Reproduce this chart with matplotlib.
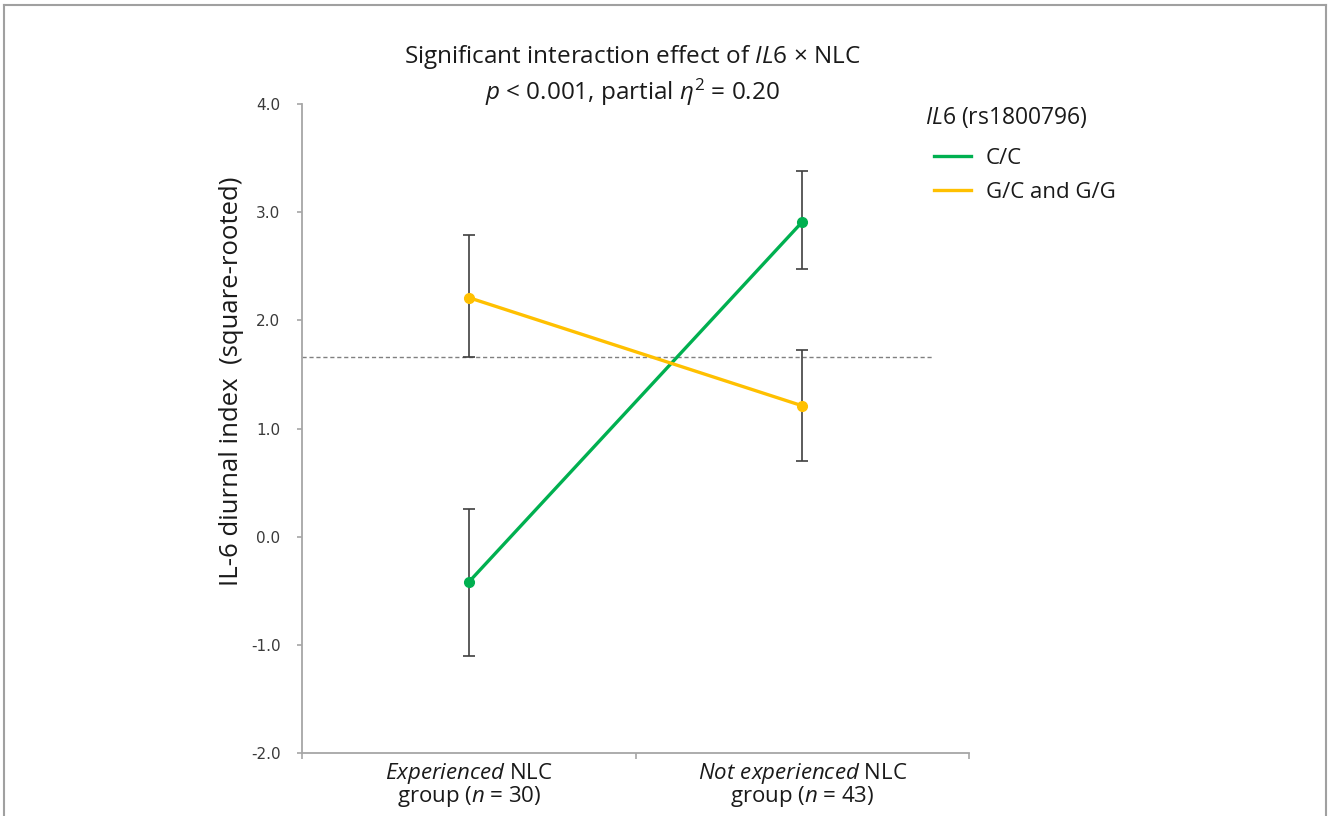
import matplotlib
matplotlib.use("Agg")
import matplotlib.pyplot as plt
from matplotlib.lines import Line2D

plt.rcParams['font.family'] = ['Open Sans', 'DejaVu Sans']
plt.rcParams['mathtext.fontset'] = 'custom'
plt.rcParams['mathtext.rm'] = 'Open Sans'
plt.rcParams['mathtext.it'] = 'Open Sans:italic'
plt.rcParams['mathtext.fallback'] = 'stixsans'

# ---- data ----
group_labels = [r"$\it{Experienced}$ NLC" + "\n" + r"group ($\it{n}$ = 30)",
                r"$\it{Not\ experienced}$ NLC" + "\n" + r"group ($\it{n}$ = 43)"]
genotypes = ["C/C", "G/C and G/G"]
cc_mean = [-0.42, 2.91]
cc_low = [-1.10, 2.47]
cc_high = [0.26, 3.38]
gg_mean = [2.21, 1.21]
gg_low = [1.66, 0.70]
gg_high = [2.79, 1.73]
grand_mean = 1.66
yticks = [-2.0, -1.0, 0.0, 1.0, 2.0, 3.0, 4.0]

green = "#00B050"
yellow = "#FFC000"
axis_gray = "#A6A6A6"
txt = "#1a1a1a"

fig = plt.figure(figsize=(13.28, 8.16), dpi=100)
ax = fig.add_axes([302/1328, 1-753/816, (969-302)/1328, (753-104)/816])

x = [0.5, 1.5]
for mean, lo, hi, col, lab in [(cc_mean, cc_low, cc_high, green, genotypes[0]),
                               (gg_mean, gg_low, gg_high, yellow, genotypes[1])]:
    yerr = [[m - l for m, l in zip(mean, lo)], [h - m for m, h in zip(mean, hi)]]
    ax.errorbar(x, mean, yerr=yerr, fmt='none', ecolor='#404040', elinewidth=1.2,
                capsize=4, capthick=1.2, zorder=2)
    ax.plot(x, mean, color=col, lw=2.4, marker='o', ms=7, zorder=3, label=lab)

ax.hlines(grand_mean, 0, 1.89, colors='#808080', linestyles=(0, (3, 2)), lw=1, zorder=1)

ax.set_xlim(0, 2)
ax.set_ylim(-2, 4)
ax.set_yticks(yticks)
ax.set_yticklabels([f"{v:.1f}" for v in yticks], family='DejaVu Sans', fontsize=11, color='#3a3a3a')
ax.set_xticks([0, 1, 2])
ax.set_xticklabels([])
ax.set_xticks(x, minor=True)
ax.set_xticklabels(group_labels, minor=True, fontsize=16, color=txt, linespacing=0.86)
ax.tick_params(axis='x', which='minor', length=0, pad=6)
ax.tick_params(axis='x', which='major', length=4, color=axis_gray, width=1.2)
ax.tick_params(axis='y', length=3.5, color=axis_gray, width=1.2, pad=12)
for s in ['top', 'right']:
    ax.spines[s].set_visible(False)
for s in ['left', 'bottom']:
    ax.spines[s].set_color(axis_gray)
    ax.spines[s].set_linewidth(1.3)

fig.text(231/1328, 1-381/816, "IL-6 diurnal index  (square-rooted)", rotation=90,
         ha='center', va='center', fontsize=18.5, color=txt)

fig.text(632/1328, 1-57/816, r"Significant interaction effect of $\it{IL6}$ × NLC",
         ha='center', va='center', fontsize=17.5, color=txt)
fig.text(632/1328, 1-92/816, r"$p$ < 0.001, partial $\it{\eta}^{2}$ = 0.20",
         ha='center', va='center', fontsize=17.5, color=txt)

fig.text(925/1328, 1-117/816, r"$\it{IL6}$ (rs1800796)", ha='left', va='center',
         fontsize=16.5, color=txt)
handles = [Line2D([], [], color=green, lw=2.4), Line2D([], [], color=yellow, lw=2.4)]
leg = fig.legend(handles, genotypes, loc='upper left', bbox_to_anchor=(925/1328, 1-139/816),
                 frameon=False, fontsize=16, handlelength=1.67, handletextpad=0.68,
                 labelspacing=0.6, borderpad=0.4, borderaxespad=0)
for t in leg.get_texts():
    t.set_color(txt)

# outer frame
fig.add_artist(Line2D([4/1328, 4/1328], [0, 1-5/816], color='#A0A0A0', lw=1.5, transform=fig.transFigure))
fig.add_artist(Line2D([4/1328, 1326/1328], [1-5/816, 1-5/816], color='#A0A0A0', lw=1.5, transform=fig.transFigure))
fig.add_artist(Line2D([1326/1328, 1326/1328], [0, 1-5/816], color='#A0A0A0', lw=1.5, transform=fig.transFigure))

fig.savefig("out.png", dpi=100)
